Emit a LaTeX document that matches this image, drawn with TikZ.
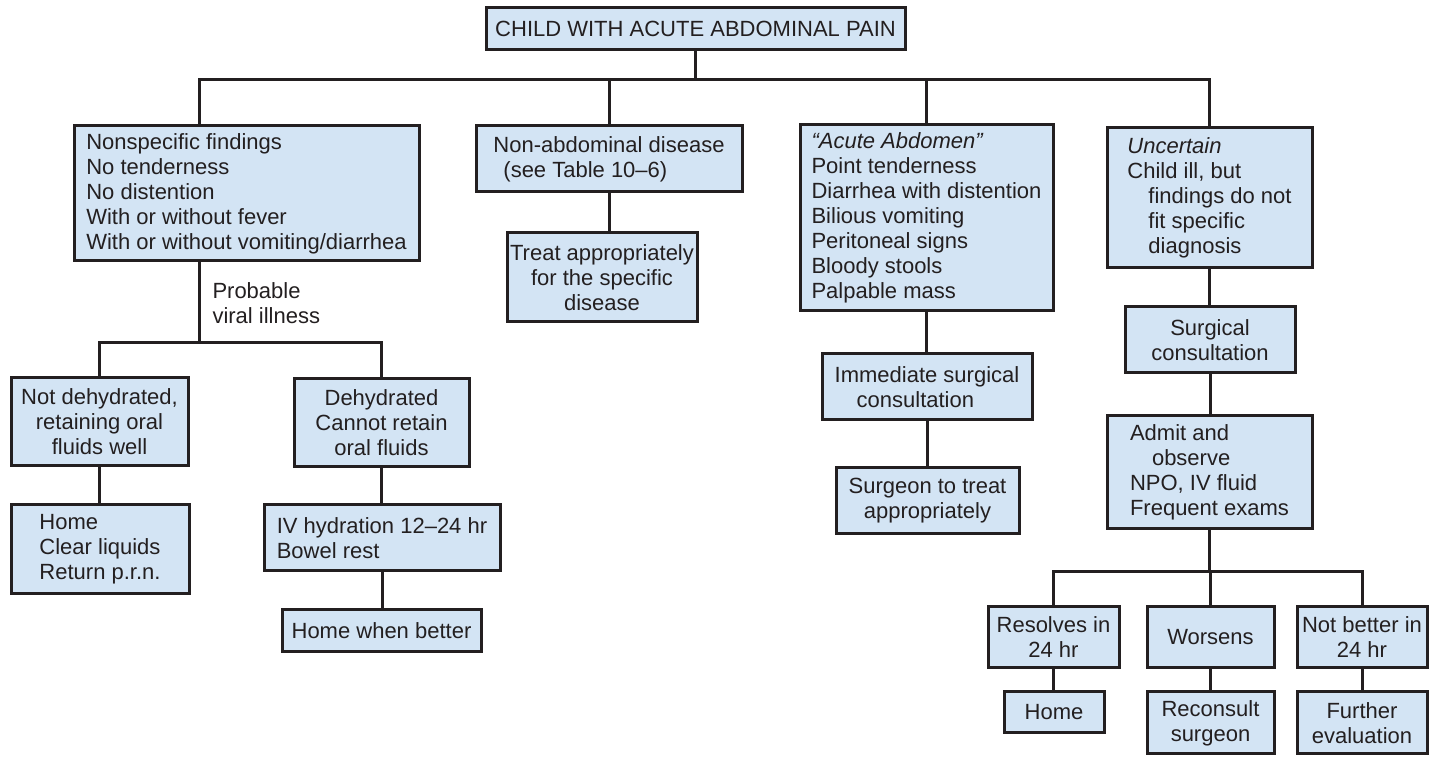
\documentclass[tikz,border=0pt]{standalone}
\usepackage{fontspec}
\setmainfont{Liberation Sans}
\definecolor{boxblue}{RGB}{211,228,244}
\definecolor{ink}{RGB}{35,31,32}

\begin{document}
\begin{tikzpicture}[x=0.5pt,y=-0.5pt,
    flowbox/.style={draw=ink, fill=boxblue, line width=1.5pt, inner sep=0pt, text=ink,
      font=\fontsize{11}{12.5}\selectfont},
    sz/.style 2 args={minimum width=#1*0.5pt, minimum height=#2*0.5pt},
    lbl/.style={inner sep=0pt, text=ink, align=left, font=\fontsize{11}{12.5}\selectfont},
    link/.style={draw=ink, line width=1.5pt}]
  \useasboundingbox (0,0) rectangle (1436,758);

  % boxes
  \node[flowbox, sz={419}{42}] (top) at (695.5,29) {CHILD WITH ACUTE ABDOMINAL PAIN};
  \node[flowbox, sz={345}{135}, align=left] (nonspec) at (246.5,193.5)
    {Nonspecific findings\\No tenderness\\No distention\\With or without fever\\With or without vomiting/diarrhea};
  \node[flowbox, sz={266}{66}, align=left] (nonabd) at (609,159)
    {Non-abdominal disease\\\hspace*{5pt}(see Table 10--6)};
  \node[flowbox, sz={190}{89}, align=center] (treat) at (602,277.5)
    {Treat appropriately\\for the specific\\disease};
  \node[flowbox, sz={253}{186}, align=left] (acute) at (926.5,218)
    {\textit{“Acute Abdomen”}\\Point tenderness\\Diarrhea with distention\\Bilious vomiting\\Peritoneal signs\\Bloody stools\\Palpable mass};
  \node[flowbox, sz={205}{140}, align=left] (uncert) at (1209.5,198)
    {\textit{Uncertain}\\Child ill, but\\\hspace*{10.5pt}findings do not\\\hspace*{10.5pt}fit specific\\\hspace*{10.5pt}diagnosis};

  \node[flowbox, sz={177}{88}, align=center] (notdeh) at (99.5,422)
    {Not dehydrated,\\retaining oral\\fluids well};
  \node[flowbox, sz={175}{88}, align=center] (deh) at (381.5,423)
    {Dehydrated\\Cannot retain\\oral fluids};
  \node[flowbox, sz={178}{89}, align=left] (home1) at (100,549.5)
    {Home\\Clear liquids\\Return p.r.n.};
  \node[flowbox, sz={236}{66}, align=left] (ivh) at (382,538)
    {IV hydration 12--24 hr\\Bowel rest};
  \node[flowbox, sz={199}{42}] (hwb) at (381.5,631) {Home when better};

  \node[flowbox, sz={210}{66}, align=left] (immed) at (927,387)
    {Immediate surgical\\\hspace*{11pt}consultation};
  \node[flowbox, sz={183}{66}, align=center] (surg) at (927.5,501)
    {Surgeon to treat\\appropriately};

  \node[flowbox, sz={170}{66}, align=center] (sc) at (1210,340)
    {Surgical\\consultation};
  \node[flowbox, sz={205}{113}, align=left] (admit) at (1209.5,472.5)
    {Admit and\\\hspace*{11pt}observe\\NPO, IV fluid\\Frequent exams};
  \node[flowbox, sz={131}{61}, align=center] (res) at (1053.5,637.5) {Resolves in\\24 hr};
  \node[flowbox, sz={127}{61}] (wor) at (1210.5,637.5) {Worsens};
  \node[flowbox, sz={130}{61}, align=center] (nbt) at (1362,637.5) {Not better in\\24 hr};
  \node[flowbox, sz={100}{41}] (home2) at (1054,712.5) {Home};
  \node[flowbox, sz={127}{62}, align=center] (recon) at (1210.5,723) {Reconsult\\surgeon};
  \node[flowbox, sz={130}{62}, align=center] (further) at (1362,723) {Further\\evaluation};

  % top fork
  \coordinate (b1) at (199,80);
  \draw[link] (top.south) -- (top.south |- b1);
  \draw[link] (b1 |- nonspec.north) -- (b1) -- (uncert.north |- b1) -- (uncert.north);
  \foreach \n in {nonabd,acute}
    \draw[link] (\n.north) -- (\n.north |- b1);

  % viral illness fork
  \coordinate (b2) at (199,343);
  \draw[link] (b1 |- nonspec.south) -- node[lbl, anchor=west, xshift=6pt] {Probable\\viral illness} (b2);
  \draw[link] (notdeh.north) -- (notdeh.north |- b2) -- (deh.north |- b2) -- (deh.north);

  % straight links
  \foreach \p/\q in {notdeh/home1,deh/ivh,ivh/hwb,nonabd/treat,acute/immed,immed/surg,
                     uncert/sc,sc/admit,res/home2,wor/recon,nbt/further}
    \draw[link] (\p.south) -- (\p.south |- \q.north);

  % admit fork
  \coordinate (b3) at (1209.5,572);
  \draw[link] (admit.south) -- (b3);
  \draw[link] (res.north) -- (res.north |- b3) -- (nbt.north |- b3) -- (nbt.north);
  \draw[link] (wor.north) -- (wor.north |- b3);
\end{tikzpicture}
\end{document}
